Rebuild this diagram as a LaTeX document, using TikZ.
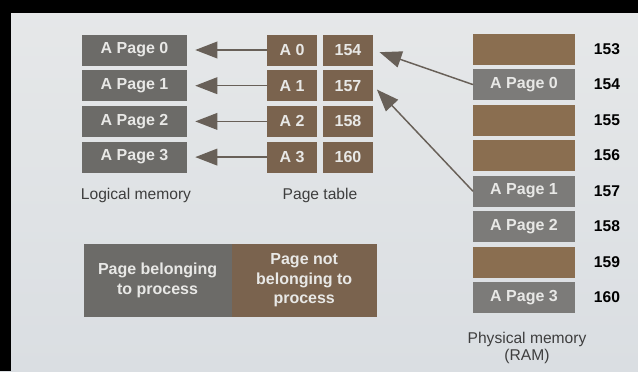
\documentclass[tikz,border=0pt]{standalone}
\usepackage{fontspec}
\setmainfont{Liberation Sans}
\usetikzlibrary{arrows.meta}
\definecolor{paper}{RGB}{230,232,233}
\definecolor{paperlow}{RGB}{218,222,226}
\definecolor{boxgray}{RGB}{108,107,104}
\definecolor{boxbrown}{RGB}{122,99,78}
\definecolor{ramgray}{RGB}{124,123,121}
\definecolor{rambrown}{RGB}{138,110,80}
\definecolor{arrowcol}{RGB}{104,96,88}
\definecolor{captext}{RGB}{62,62,62}
\definecolor{boxtext}{RGB}{232,232,230}

\begin{document}
\begin{tikzpicture}[x=.75pt, y=-.75pt, font=\fontsize{11.7}{14}\selectfont, line join=round, line cap=round,
		>={Triangle[length=16.5pt,width=12.5pt]},
		cell/.style={text=boxtext, font=\fontsize{12}{14}\selectfont\bfseries, minimum height=23.25pt, inner sep=0pt},
		logpage/.style={cell, fill=boxgray, minimum width=78.75pt},
		tabcell/.style={cell, fill=boxbrown, minimum width=37.5pt},
		ramcell/.style={cell, minimum width=76.5pt},
		framenum/.style={font=\fontsize{11.7}{14}\selectfont\bfseries, text=black},
		caption/.style={text=captext, align=center},
		keybox/.style={text=boxtext, font=\fontsize{12}{14.6}\selectfont\bfseries, align=center, minimum height=54.75pt, inner sep=0pt},
		link/.style={->, arrowcol, line width=1.1pt}]
		% page and the dark edges of the photo
		\shade[top color=paper, bottom color=paperlow] (0,0) rectangle (638,371);
		\fill[black] (0,0) rectangle (638,13);
		\fill[black] (0,0) rectangle (11,371);
		\useasboundingbox (0,0) rectangle (638,371);
		
		% logical memory and page table
		\foreach \k/\f in {0/154,1/157,2/158,3/160}{
			\node[logpage] (log\k) at (134.5,{50+35.7*\k}) {A Page \k};
			\node[tabcell] (tab\k) at (292,{50+35.7*\k}) {A \k};
			\node[tabcell] (frm\k) at (348,{50+35.7*\k}) {\f};
			\draw[link, shorten >=6pt] (tab\k) -- (log\k);
		}
		\node[caption] (loglab) at (136,195) {Logical memory};
		\node[caption] (tablab) at (320,195) {Page table};
		
		% physical memory
		\foreach \f/\p/\c [count=\i from 0] in {153//rambrown,154/A Page 0/ramgray,155//rambrown,156//rambrown,157/A Page 1/ramgray,158/A Page 2/ramgray,159//rambrown,160/A Page 3/ramgray}{
			\node[ramcell, fill=\c] (ram\f) at (524,{49+35.5*\i}) {\p};
			\node[framenum] (num\f) at (607,{49+35.5*\i}) {\f};
		}
		\node[caption, font=\fontsize{11.7}{12.75}\selectfont] (ramlab) at (527,348) {Physical memory\\(RAM)};
		
		\draw[link, shorten >=5pt] (ram154.west) -- (frm0.east);
		\draw[link, shorten >=4pt] (ram157.west) -- (frm1.east);
		
		% key
		\node[keybox, fill=boxgray, minimum width=111pt] (own) at (157.6,280.5) {Page belonging\\to process};
		\node[keybox, fill=boxbrown, minimum width=108.75pt] (notown) at (304.2,280.5) {Page not\\belonging to\\process};
		
	\end{tikzpicture}
\end{document}
